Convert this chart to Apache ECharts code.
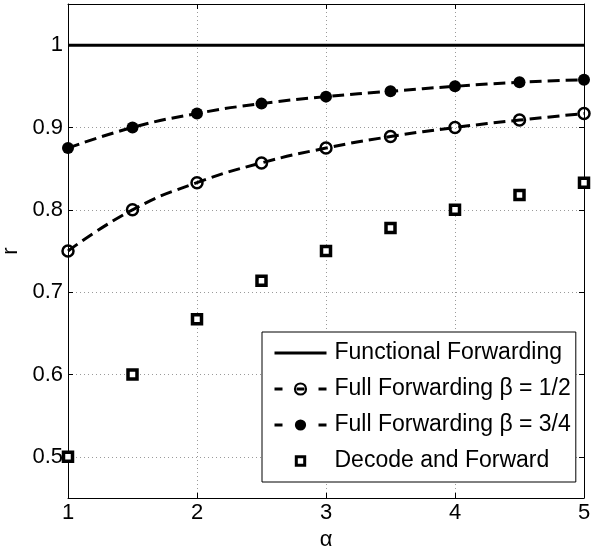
<!DOCTYPE html>
<html>
<head>
<meta charset="utf-8">
<script src="https://cdn.jsdelivr.net/npm/echarts@6/dist/echarts.min.js"></script>
<style>
  html, body { margin: 0; padding: 0; background: #fff; }
  #chart { width: 592px; height: 551px; }
</style>
</head>
<body>
<div id="chart"></div>
<script>
// Achievable rate r versus alpha for the forwarding schemes
const alpha = [1, 1.5, 2, 2.5, 3, 3.5, 4, 4.5, 5];
const functionalForwarding = [1, 1, 1, 1, 1, 1, 1, 1, 1];
const fullForwardingHalf = [0.75, 0.8, 0.833, 0.857, 0.875, 0.889, 0.9, 0.909, 0.917];
const fullForwardingThreeQuarter = [0.875, 0.9, 0.917, 0.929, 0.9375, 0.944, 0.95, 0.955, 0.958];
const decodeAndForward = [0.5, 0.6, 0.667, 0.714, 0.75, 0.778, 0.8, 0.818, 0.833];

const yTicks = [0.5, 0.6, 0.7, 0.8, 0.9, 1];

const seriesNames = [
  'Functional Forwarding',
  'Full Forwarding \u03b2 = 1/2',
  'Full Forwarding \u03b2 = 3/4',
  'Decode and Forward'
];

const pairs = ys => alpha.map((a, i) => [a, ys[i]]);
const FONT = '"Liberation Sans", Arial, Helvetica, sans-serif';

const gridLine = { show: true, lineStyle: { color: '#9a9a9a', width: 1, type: [1, 3] } };
const boxLine = { show: true, onZero: false, lineStyle: { color: '#000', width: 1 } };
const tick = { show: true, inside: true, length: 5, lineStyle: { color: '#000' } };

const chart = echarts.init(document.getElementById('chart'), null, { renderer: 'canvas' });

chart.setOption({
  animation: false,
  backgroundColor: '#fff',
  textStyle: { fontFamily: FONT },
  grid: { left: 68, right: 8, top: 4, bottom: 53, containLabel: false, outerBoundsMode: 'none' },
  xAxis: [
    {
      type: 'value', min: 1, max: 5, interval: 1, position: 'bottom',
      name: '\u03b1', nameLocation: 'middle', nameGap: 22,
      nameTextStyle: { fontSize: 22, color: '#000', fontFamily: FONT },
      axisLine: boxLine,
      axisTick: tick,
      axisLabel: { color: '#000', fontSize: 22, margin: 4, fontFamily: FONT },
      splitLine: gridLine
    },
    {
      type: 'value', min: 1, max: 5, interval: 1, position: 'top',
      axisLine: boxLine,
      axisTick: tick,
      axisLabel: { show: false },
      splitLine: { show: false }
    }
  ],
  yAxis: [
    {
      type: 'value', min: 0.45, max: 1.05, position: 'left',
      name: 'r', nameLocation: 'middle', nameGap: 46, nameRotate: 90,
      nameTextStyle: { fontSize: 22, color: '#000', fontFamily: FONT },
      axisLine: boxLine,
      axisTick: Object.assign({ customValues: yTicks }, tick),
      axisLabel: { color: '#000', fontSize: 22, margin: 5, customValues: yTicks, fontFamily: FONT,
                   formatter: v => String(Math.round(v * 10) / 10) },
      splitLine: gridLine
    },
    {
      type: 'value', min: 0.45, max: 1.05, position: 'right',
      axisLine: boxLine,
      axisTick: Object.assign({ customValues: yTicks }, tick),
      axisLabel: { show: false, customValues: yTicks },
      splitLine: { show: false }
    }
  ],
  legend: {
    orient: 'vertical',
    left: 262, top: 332,
    padding: [9, 5, 9, 11],
    itemWidth: 52, itemHeight: 14, itemGap: 12,
    backgroundColor: '#fff',
    borderColor: '#000', borderWidth: 1, borderRadius: 0,
    lineStyle: { type: [8, 14, 8, 14, 8], width: 3, color: '#000' },
    textStyle: { fontSize: 23, color: '#000', lineHeight: 24, fontFamily: FONT, padding: [0, 0, 0, 3] },
    data: [
      { name: seriesNames[0], icon: 'path://M0,0 H52 V3 H0 Z' },
      { name: seriesNames[1] },
      { name: seriesNames[2] },
      { name: seriesNames[3], icon: 'path://M0,0 M20,20 M4,4 L16,4 L16,16 L4,16 Z',
        itemStyle: { color: '#fff', borderColor: '#000', borderWidth: 3, opacity: 1 } }
    ]
  },
  series: [
    {
      name: seriesNames[0], type: 'line', data: pairs(functionalForwarding),
      symbol: 'none', lineStyle: { color: '#000', width: 3 }, itemStyle: { color: '#000' }, z: 3
    },
    {
      name: seriesNames[1], type: 'line', data: pairs(fullForwardingHalf), smooth: true,
      symbol: 'circle', symbolSize: 11, showAllSymbol: true,
      lineStyle: { color: '#000', width: 3, type: [12, 6] },
      itemStyle: { color: 'rgba(255,255,255,0)', borderColor: '#000', borderWidth: 2.5 }, z: 3
    },
    {
      name: seriesNames[2], type: 'line', data: pairs(fullForwardingThreeQuarter), smooth: true,
      symbol: 'circle', symbolSize: 12, showAllSymbol: true,
      lineStyle: { color: '#000', width: 3, type: [12, 6] },
      itemStyle: { color: '#000', borderColor: '#000', borderWidth: 0 }, z: 3
    },
    {
      name: seriesNames[3], type: 'scatter', data: pairs(decodeAndForward),
      symbol: 'rect', symbolSize: 9,
      itemStyle: { color: '#fff', borderColor: '#000', borderWidth: 3.5, opacity: 1 }, z: 3
    }
  ]
});
</script>
</body>
</html>
